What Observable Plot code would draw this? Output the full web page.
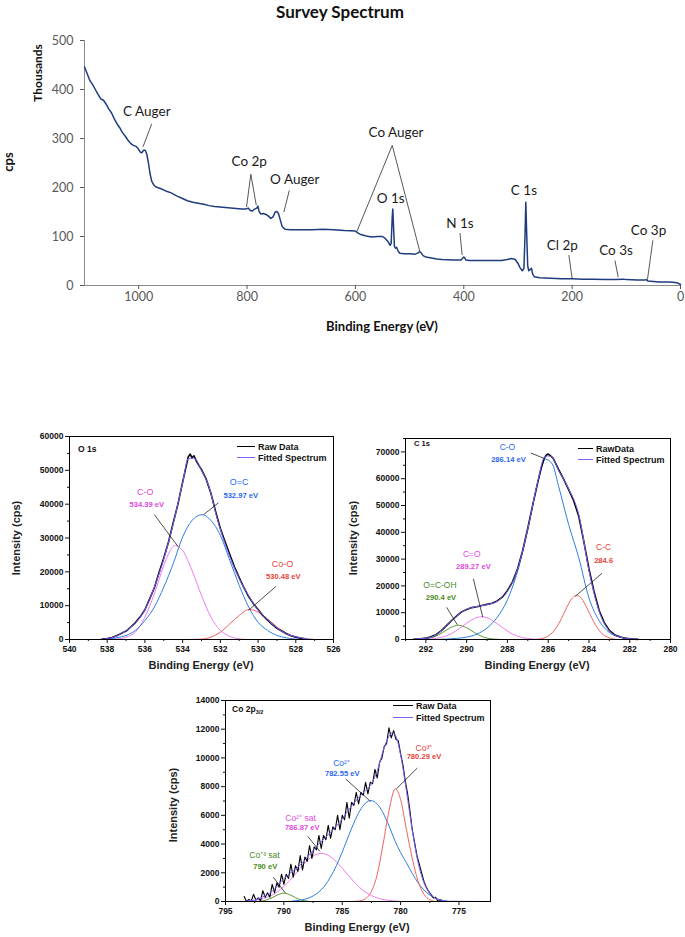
<!DOCTYPE html>
<html><head><meta charset="utf-8">
<script src="https://cdn.jsdelivr.net/npm/d3@7"></script>
<script src="https://cdn.jsdelivr.net/npm/@observablehq/plot@0.6"></script>
<style>
body{margin:0;background:#fff;}
#root{position:relative;width:685px;height:937px;overflow:hidden;background:#fff;}
</style></head>
<body><div id="root"></div>
<script>
// ---------------- DATA ----------------
// Survey spectrum (binding energy eV, thousands of cps)
const surveyBE = [1100,1095,1090,1085,1080,1075,1070,1065,1060,1055,1050,1045,1040,1035,1030,1025,1020,1015,1010,1005,1000,997,994,991,988,985,982,979,976,972,968,960,950,940,930,920,910,900,890,880,870,860,850,840,830,820,810,802,798,794,790,786,782,780,778,775,770,765,760,756,752,748,745,742,739,735,730,720,700,680,660,640,620,600,595,590,580,570,560,550,545,540,536,534,532,531,530,528,526,524,521,518,510,500,490,485,482,479,475,470,460,450,440,420,405,400,398,396,390,370,350,330,320,312,305,300,296,292,289,287,285.5,284,282,280,277,275,273,270,260,240,220,200,180,160,140,120,105,100,80,66,63,60,50,40,20,10,5,0];
const surveyK = [446,432,418,410,400,390,381,378,370,360,352,340,330,322,312,305,297,290,286,284,278,272,271,276,276,268,250,228,213,205,201,198,193,189,183,178,173,170,168,166,163,161,160,159,158,157,156,156,158,153,152,156,158,162,152,146,147,145,141,137,140,150,151,147,135,120,115,114,114,114,115,114,112,111,107,104,101,99,100,100,96,90,82,86,140,156,130,80,76,78,70,66,65,65,64,66,69,67,61,58,56,54,53,52,52,58,56,52,51,51,51,51,53,55,53,45,36,30,35,100,170,110,40,30,33,35,24,18,16,15,14,14,13,13,12,12,13,12,11,11,12,9,8,7,7,6,5,2];
const surveyXTicks = [1000,800,600,400,200,0];
const surveyYTicks = [0,100,200,300,400,500];
const surveyNames = ["C Auger","Co 2p","O Auger","Co Auger","O 1s","N 1s","C 1s","Cl 2p","Co 3s","Co 3p"];
const surveyNameAt = [[985,354],[796,252],[712,215],[525,312],[535,177],[407,126],[289,193],[218,82],[119,71],[59,111]];
const surveyLeaders = [[976,330,992,283],[793,227,801,160],[793,227,783,164],[722,194,732,150],[532,286,597,111],[532,286,481,69],[407,107,403,62],[206,62,200,14],[121,51,115,17],[51,92,61,12]];

// O 1s
const o1sFitBE = [540,538.5,538,537.5,537,536.5,536,535.5,535,534.5,534,533.7,533.4,533,532.6,532.2,531.6,531,530.5,530,529.5,529,528.5,528,527.5,527,526];
const o1sFitV  = [0,0,250,1000,2600,4900,8800,15500,23800,34200,46300,53500,53600,50000,45100,36300,26000,18000,12900,8700,5800,3400,1700,800,250,0,0];
const o1sRawBE = [538.25,538,537.75,537.5,537.25,537,536.75,536.5,536.25,536,535.75,535.5,535.25,535,534.75,534.5,534.25,534,533.85,533.7,533.6,533.5,533.4,533.25,533,532.75,532.5,532.25,532,531.75,531.5,531.25,531,530.75,530.5,530.25,530,529.75,529.5,529.25,529,528.75,528.5,528.25,528,527.75,527.5];
const o1sRawV  = [100,300,600,1100,1800,2500,3700,5000,6700,8800,12000,15300,19800,24100,28800,34500,40000,46500,50300,54000,54800,53700,54300,52500,50200,47400,43200,37800,32800,28900,25100,21400,18300,15300,12700,10600,8900,7100,5700,4500,3300,2500,1700,1100,700,400,200];
const o1sCOBE  = [538.5,537.5,537,536.5,536,535.5,535,534.7,534.39,534,533.5,533,532.5,532,531.5,531,530.6];
const o1sCOV   = [0,150,700,2200,6600,13500,21900,25800,27800,26300,20400,13000,6600,2700,900,200,0];
const o1sOCBE  = [538.3,538,537.5,537,536.5,536,535.5,535,534.5,534,533.5,532.97,532.5,532,531.5,531,530.5,530,529.5,529,528.5,528,527.5];
const o1sOCV   = [0,200,500,1200,2700,5600,9600,15500,22400,30300,35200,36900,35200,30800,23400,16000,9600,5100,2700,1200,500,100,0];
const o1sCoOBE = [533.8,533,532.5,532,531.5,531,530.48,530,529.5,529,528.5,528,527.5,527];
const o1sCoOV  = [0,100,700,2200,4600,7100,8900,8100,6100,3700,1900,700,200,0];
const o1sBaseBE = [538.3,527.5];
const o1sBaseV  = [0,0];
const o1sXTicks = [540,538,536,534,532,530,528,526];
const o1sXMinor = [539,537,535,533,531,529,527];
const o1sYTicks = [0,10000,20000,30000,40000,50000,60000];
const o1sYMinor = [5000,15000,25000,35000,45000,55000];
const o1sNames = ["C-O","O=C","Co-O"];
const o1sEnergies = ["534.39 eV","532.97 eV","530.48 eV"];
const o1sNameAt = [[535.98,43600],[531.0,46400],[528.7,22400]];
const o1sEnergyAt = [[535.9,39900],[530.92,42400],[528.66,18750]];
const o1sLeaders = [[535.5,36900,534.25,27500],[532.1,40400,532.89,36900],[529.05,15700,530.51,8600]];

// C 1s
const c1sFitBE = [293,292.7,292.5,292,291.5,291,290.5,290,289.5,289,288.5,288,287.5,287,286.5,286.2,286,285.8,285.5,285,284.5,284,283.5,283,282.5,282,281.5,280];
const c1sFitV  = [0,0,150,450,1700,5000,8700,11300,12300,13000,14300,18000,26200,41400,59300,67800,68500,68000,63200,56300,46600,25700,10500,3200,950,250,0,0];
const c1sRawBE = [292.6,292.25,292,291.75,291.5,291.25,291,290.75,290.5,290.25,290,289.75,289.5,289.25,289,288.75,288.5,288.25,288,287.75,287.5,287.25,287,286.75,286.5,286.35,286.2,286.1,286,285.9,285.75,285.5,285.25,285,284.75,284.5,284.25,284,283.75,283.5,283.25,283,282.75,282.5,282.25,282,281.75,281.6];
const c1sRawV  = [100,300,500,1000,1800,3200,5100,7000,8700,10300,11200,11900,12200,12700,13100,13500,14400,15800,18200,21500,26400,33200,41600,50500,59000,63800,67500,68800,69200,68600,67600,63600,59900,56000,51800,46000,36500,26300,17800,10800,6300,3400,1800,1000,500,300,100,50];
const c1sCOBE  = [291.5,291,290.5,290,289.5,289,288.5,288,287.5,287,286.5,286.14,285.8,285.5,285,284.5,284,283.5,283,282.5,282,281.5];
const c1sCOV   = [0,150,400,900,2000,4300,8300,14800,25500,41000,59000,67300,65500,57500,43000,30500,15500,7000,2600,900,250,0];
const c1sCCBE  = [286.6,286.2,285.8,285.5,285.2,285.0,284.8,284.6,284.4,284.2,284.0,283.7,283.4,283.0,282.6];
const c1sCCV   = [0,600,2500,5700,10200,13300,15600,16400,15600,13300,10200,5700,2500,600,0];
const c1sCdOBE = [292.6,292.0,291.5,291.0,290.5,290.0,289.5,289.27,289.0,288.5,288.0,287.5,287.0,286.5,286.2];
const c1sCdOV  = [0,90,390,1340,3300,6100,8200,8500,8100,5900,3150,1200,360,80,0];
const c1sCOOHBE = [292.4,292,291.6,291.2,290.8,290.4,290.0,289.6,289.2,288.8,288.4];
const c1sCOOHV  = [50,250,950,2500,4400,5300,4400,2500,950,250,50];
const c1sXTicks = [292,290,288,286,284,282,280];
const c1sXMinor = [293,291,289,287,285,283,281];
const c1sYTicks = [0,10000,20000,30000,40000,50000,60000,70000];
const c1sYMinor = [5000,15000,25000,35000,45000,55000,65000,75000];
const c1sNames = ["C-O","C=O","O=C-OH","C-C"];
const c1sEnergies = ["286.14 eV","289.27 eV","290.4 eV","284.6"];
const c1sNameAt = [[288.0,71900],[289.75,31900],[291.31,20100],[283.28,34400]];
const c1sEnergyAt = [[287.95,67000],[289.67,27300],[291.26,15500],[283.28,29400]];
const c1sLeaders = [[286.85,69600,286.18,67500],[289.67,22600,289.21,8300],[290.98,12000,290.46,5500],[283.36,24700,284.67,16100]];

// Co 2p3/2
const co2pFitBE = [795,793.5,793,792.5,792,791.5,791,790.5,790,789.5,789,788.5,788,787.5,787,786.5,786,785.5,785,784.5,784,783.5,783,782.5,782,781.5,781,780.7,780.4,780,779.5,779,778.5,778,777.5,777,776.5,776,772.3];
const co2pFitV  = [0,0,50,100,250,450,700,1150,1600,1950,2250,2620,3075,3555,4000,4410,4830,5260,5765,6320,6860,7325,7725,8195,9110,10500,11500,11750,11500,10200,7700,4950,2700,1300,570,220,80,20,0];
const co2pRawBE = [793.4,793.2,793.0,792.8,792.6,792.4,792.2,792.0,791.8,791.6,791.4,791.2,791.0,790.8,790.6,790.4,790.2,790.0,789.8,789.6,789.4,789.2,789.0,788.8,788.6,788.4,788.2,788.0,787.8,787.6,787.4,787.2,787.0,786.8,786.6,786.4,786.2,786.0,785.8,785.6,785.4,785.2,785.0,784.8,784.6,784.4,784.2,784.0,783.8,783.6,783.4,783.2,783.0,782.8,782.6,782.4,782.2,782.0,781.8,781.6,781.4,781.2,781.0,780.8,780.6,780.4,780.2,780.0,779.8,779.6,779.4,779.2,779.0,778.8,778.6,778.4,778.2,778.0,777.8,777.6,777.4,777.2,777.0,776.8,776.6,776.4];
const co2pRawV  = [350,0,150,20,500,100,250,50,750,300,600,300,1200,600,1300,1000,1900,1200,1900,1600,2600,1700,2500,2100,3200,2200,3100,2800,3900,3000,3800,3600,4600,3700,4600,4300,5300,4400,5200,5000,6000,5000,6000,5700,6900,5800,6900,6700,7600,6800,7600,7400,8300,7500,8300,8200,9200,8600,9700,10000,10800,11000,12100,11400,11900,11300,11200,10300,9500,8400,7500,6300,5000,4100,3200,2600,2000,1400,1000,700,500,250,300,0,120,0];
const co2pCo3BE = [784.2,783.5,783,782.5,782,781.5,781,780.45,780,779.5,779,778.5,778,777.5,777];
const co2pCo3V  = [0,45,200,700,1900,4000,6300,7850,7100,5000,3000,1400,500,120,0];
const co2pCo2BE = [789.5,789,788.5,788,787.5,787,786.5,786,785.5,785,784.5,784,783.5,783,782.55,782,781.5,781,780.5,780,779.5,779,778.5,778,777.5,777,776.5,776];
const co2pCo2V  = [0,50,105,205,385,665,1095,1715,2495,3445,4480,5475,6310,6860,7030,6785,6165,5280,4265,3400,2700,1950,1300,800,450,230,100,30];
const co2pSat2BE = [793.2,792.5,792,791.5,791,790.5,790,789.5,789,788.5,788,787.5,787,786.8,786.5,786,785.5,785,784.5,784,783.5,783,782.5,782,781.5,781,780.5,780];
const co2pSat2V  = [0,85,155,270,450,710,1050,1460,1935,2410,2845,3170,3335,3350,3315,3115,2765,2320,1840,1380,970,650,410,245,140,75,37,0];
const co2pSat3BE = [792.2,792,791.5,791,790.5,790,789.5,789,788.5,788,787.8];
const co2pSat3V  = [0,25,100,265,475,580,475,265,100,25,0];
const co2pXTicks = [795,790,785,780,775];
const co2pXMinor = [792.5,787.5,782.5,777.5];
const co2pYTicks = [0,2000,4000,6000,8000,10000,12000,14000];
const co2pYMinor = [1000,3000,5000,7000,9000,11000,13000];
const co2pNames = ["Co³⁺","Co²⁺","Co²⁺ sat","Co⁺³ sat"];
const co2pEnergies = ["780.29 eV","782.55 eV","786.87 eV","790 eV"];
const co2pNameAt = [[778.0,10700],[785.06,9630],[788.57,5800],[791.66,3250]];
const co2pEnergyAt = [[778.0,10100],[785.0,8930],[788.43,5170],[791.6,2440]];
const co2pLeaders = [[778.57,9300,780.37,7840],[784.71,8540,782.57,6960],[787.95,4530,786.92,3500],[790.9,1690,789.86,580]];

// ---------------- STYLES ----------------
const FIT = "#7b61ff";
const LINE = {pink: "#ef7cef", blue: "#2b7fe0", red: "#f0625c", green: "#5f9632"};
const TEXT = {pink: "#e04ae0", blue: "#2a68ee", red: "#e8443a", green: "#4b8a1c"};
const SANS = "'Liberation Sans', Arial, Helvetica, sans-serif";
const LATO = "Lato, 'Open Sans', sans-serif";

const rows = (be, v) => be.map((b, i) => ({be: b, v: v[i]}));
const linkRows = a => a.map(([x1, y1, x2, y2]) => ({x1, y1, x2, y2}));
const noteRows = (texts, at, keys) => texts.map((t, i) => ({text: t, x: at[i][0], y: at[i][1], key: keys[i]}));

const root = document.getElementById("root");
function place(svg, left, top) {
  svg.style.position = "absolute"; svg.style.left = left + "px"; svg.style.top = top + "px";
  root.appendChild(svg);
}
function label(html, x, y, css, mode) {
  const d = document.createElement("div");
  d.innerHTML = html;
  d.style.cssText = `position:absolute;left:${x}px;top:${y}px;white-space:nowrap;line-height:1;` + css;
  d.style.transform = mode === "rot" ? "translate(-50%,-50%) rotate(-90deg)" : mode === "left" ? "translate(0,-50%)" : "translate(-50%,-50%)";
  root.appendChild(d);
}
function swatch(x1, x2, y, color) {
  const d = document.createElement("div");
  d.style.cssText = `position:absolute;left:${x1}px;top:${y - 0.75}px;width:${x2 - x1}px;height:0;border-top:1.5px solid ${color};`;
  root.appendChild(d);
}

// ---------------- SURVEY ----------------
const survey = Plot.plot({
  width: 685, height: 340, marginLeft: 84, marginRight: 5, marginTop: 40, marginBottom: 55,
  style: {fontFamily: LATO, fontSize: "12.5px", color: "#595959", background: "none"},
  x: {domain: [1100, 0]}, y: {domain: [0, 500]},
  marks: [
    Plot.ruleY([0], {stroke: "#8c8c8c"}),
    Plot.ruleX([1100], {stroke: "#8c8c8c"}),
    Plot.axisX(surveyXTicks, {tickSize: 4, tickPadding: 3, tickFormat: d => String(d)}),
    Plot.axisY(surveyYTicks, {tickSize: 4, tickPadding: 7, tickFormat: d => String(d)}),
    Plot.line(rows(surveyBE, surveyK), {x: "be", y: "v", stroke: "#1f3c7e", strokeWidth: 1.5}),
    Plot.link(linkRows(surveyLeaders), {x1: "x1", y1: "y1", x2: "x2", y2: "y2", stroke: "#444", strokeWidth: 0.9}),
    Plot.text(noteRows(surveyNames, surveyNameAt, surveyNames), {x: "x", y: "y", text: "text", fill: "#1a1a1a", fontSize: 13.5})
  ]
});
place(survey, 0, 0);
label("Survey Spectrum", 340, 11, `font-family:${LATO};font-weight:bold;font-size:17px;color:#111;`);
label("Binding Energy (eV)", 382, 326, `font-family:${LATO};font-weight:bold;font-size:13px;color:#111;`);
label("cps", 8, 162, `font-family:${LATO};font-weight:bold;font-size:13px;color:#111;`, "rot");
label("Thousands", 38, 73, `font-family:${LATO};font-weight:bold;font-size:12px;color:#111;`, "rot");

// ---------------- XPS PANELS ----------------
function panel(o) {
  const names = noteRows(o.names, o.nameAt, o.keys);
  const energies = noteRows(o.energies, o.energyAt, o.keys);
  return Plot.plot({
    width: o.w, height: o.h, marginLeft: o.ml, marginRight: o.mr, marginTop: o.mt, marginBottom: o.mb,
    style: {fontFamily: SANS, fontSize: "8.5px", fontWeight: "bold", color: "#111", background: "none"},
    x: {domain: o.xDomain}, y: {domain: o.yDomain},
    marks: [
      ...o.comps.map(c => Plot.line(c.rows, {x: "be", y: "v", stroke: LINE[c.key], strokeWidth: 1, curve: "monotone-x"})),
      Plot.line(o.raw, {x: "be", y: "v", stroke: "#000", strokeWidth: o.rawWidth, curve: "linear"}),
      Plot.line(o.fit, {x: "be", y: "v", stroke: FIT, strokeWidth: 1, curve: "monotone-x"}),
      Plot.link(linkRows(o.leaders), {x1: "x1", y1: "y1", x2: "x2", y2: "y2", stroke: "#222", strokeWidth: 0.8}),
      Plot.text(names, {x: "x", y: "y", text: "text", fill: d => TEXT[d.key], fontSize: o.nameSize, fontWeight: "normal"}),
      Plot.text(energies, {x: "x", y: "y", text: "text", fill: d => TEXT[d.key], fontSize: 7.6, fontWeight: "bold"}),
      Plot.frame({stroke: "#000"}),
      Plot.axisX(o.xTicks, {tickSize: 4, tickPadding: 2, tickFormat: d => String(d)}),
      Plot.axisX(o.xMinor, {tickSize: 2, tickFormat: () => ""}),
      Plot.axisY(o.yTicks, {tickSize: 4, tickPadding: 2, tickFormat: d => String(d)}),
      Plot.axisY(o.yMinor, {tickSize: 2, tickFormat: () => ""})
    ]
  });
}

const o1s = panel({
  w: 345, h: 260, ml: 69, mr: 12, mt: 16, mb: 41,
  xDomain: [540, 526], yDomain: [0, 60000],
  xTicks: o1sXTicks, xMinor: o1sXMinor, yTicks: o1sYTicks, yMinor: o1sYMinor,
  comps: [
    {key: "green", rows: rows(o1sBaseBE, o1sBaseV)},
    {key: "pink", rows: rows(o1sCOBE, o1sCOV)},
    {key: "blue", rows: rows(o1sOCBE, o1sOCV)},
    {key: "red", rows: rows(o1sCoOBE, o1sCoOV)}
  ],
  raw: rows(o1sRawBE, o1sRawV), rawWidth: 1.6, fit: rows(o1sFitBE, o1sFitV),
  names: o1sNames, nameAt: o1sNameAt, energies: o1sEnergies, energyAt: o1sEnergyAt,
  keys: ["pink", "blue", "red"], nameSize: 9, leaders: o1sLeaders
});
place(o1s, 0, 420);

const c1s = panel({
  w: 340, h: 260, ml: 60, mr: 15, mt: 18, mb: 41,
  xDomain: [293, 280], yDomain: [0, 75000],
  xTicks: c1sXTicks, xMinor: c1sXMinor, yTicks: c1sYTicks, yMinor: c1sYMinor,
  comps: [
    {key: "green", rows: rows(c1sCOOHBE, c1sCOOHV)},
    {key: "pink", rows: rows(c1sCdOBE, c1sCdOV)},
    {key: "blue", rows: rows(c1sCOBE, c1sCOV)},
    {key: "red", rows: rows(c1sCCBE, c1sCCV)}
  ],
  raw: rows(c1sRawBE, c1sRawV), rawWidth: 1.6, fit: rows(c1sFitBE, c1sFitV),
  names: c1sNames, nameAt: c1sNameAt, energies: c1sEnergies, energyAt: c1sEnergyAt,
  keys: ["blue", "pink", "green", "red"], nameSize: 8.5, leaders: c1sLeaders
});
place(c1s, 345, 420);

const co2p = panel({
  w: 345, h: 247, ml: 65, mr: 15, mt: 10, mb: 36,
  xDomain: [795, 772.3], yDomain: [0, 14000],
  xTicks: co2pXTicks, xMinor: co2pXMinor, yTicks: co2pYTicks, yMinor: co2pYMinor,
  comps: [
    {key: "green", rows: rows(co2pSat3BE, co2pSat3V)},
    {key: "pink", rows: rows(co2pSat2BE, co2pSat2V)},
    {key: "blue", rows: rows(co2pCo2BE, co2pCo2V)},
    {key: "red", rows: rows(co2pCo3BE, co2pCo3V)}
  ],
  raw: rows(co2pRawBE, co2pRawV), rawWidth: 1.1, fit: rows(co2pFitBE, co2pFitV),
  names: co2pNames, nameAt: co2pNameAt, energies: co2pEnergies, energyAt: co2pEnergyAt,
  keys: ["red", "blue", "pink", "green"], nameSize: 8.5, leaders: co2pLeaders
});
place(co2p, 160, 690);

// axis titles, panel labels, legends
const axisCss = `font-family:${SANS};font-weight:bold;font-size:11px;color:#222;`;
label("Binding Energy (eV)", 201, 665, axisCss);
label("Binding Energy (eV)", 537, 665, axisCss);
label("Binding Energy (eV)", 357, 927, axisCss);
label("Intensity (cps)", 16, 538, axisCss, "rot");
label("Intensity (cps)", 353, 538, axisCss, "rot");
label("Intensity (cps)", 173, 805, axisCss, "rot");

const tagCss = `font-family:${SANS};font-weight:bold;color:#111;`;
label("O 1s", 78, 449, tagCss + "font-size:8.5px;", "left");
label("C 1s", 414, 444, tagCss + "font-size:7.5px;", "left");
label("Co 2p<sub style='font-size:5.5px;vertical-align:-2px'>3/2</sub>", 232, 710, tagCss + "font-size:8.5px;", "left");

const legCss = `font-family:${SANS};font-weight:bold;font-size:9px;color:#111;`;
const legends = [
  {x1: 237, x2: 255, tx: 258, y1: 447, y2: 458, raw: "Raw Data"},
  {x1: 578, x2: 593, tx: 596, y1: 449, y2: 460, raw: "RawData"},
  {x1: 393, x2: 413, tx: 416, y1: 706, y2: 718, raw: "Raw Data"}
];
legends.forEach(l => {
  swatch(l.x1, l.x2, l.y1, "#000"); label(l.raw, l.tx, l.y1, legCss, "left");
  swatch(l.x1, l.x2, l.y2, FIT); label("Fitted Spectrum", l.tx, l.y2, legCss, "left");
});
</script>
</body></html>
